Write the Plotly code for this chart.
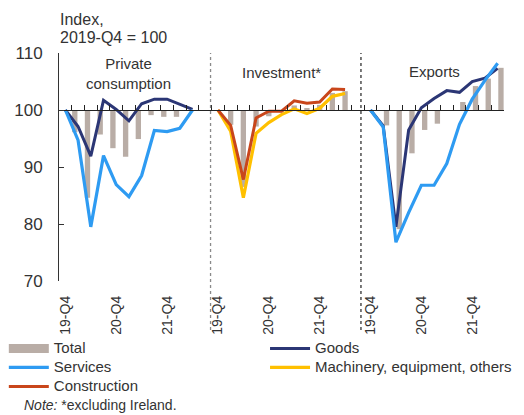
import plotly.graph_objects as go

# ---------------- data ----------------
quarters = ["19-Q4", "20-Q1", "20-Q2", "20-Q3", "20-Q4", "21-Q1",
            "21-Q2", "21-Q3", "21-Q4", "22-Q1", "22-Q2"]
panels = ["Private<br>consumption", "Investment*", "Exports"]

pc_total = [None, 96.1, 84.6, 95.7, 93.3, 91.8, 94.9, 99.1, 98.8, 98.8, None]
pc_goods = [100, 97.1, 91.9, 101.7, 100.1, 98.1, 101.1, 101.9, 101.9, 101.0, 100.1]
pc_services = [100, 94.7, 79.5, 92.0, 86.9, 84.8, 88.5, 96.4, 96.2, 96.8, 100]

inv_total = [None, 97.4, 86.5, 97.1, 98.9, 99.6, 100.8, 100.2, 100.9, 103.0, 103.3]
inv_construction = [100, 97.3, 87.8, 98.6, 99.8, 99.8, 101.6, 101.2, 101.4, 103.7, 103.6]
inv_machinery = [100, 96.3, 84.6, 95.9, 97.8, 99.2, 100.2, 99.4, 100.3, 102.4, 102.9]

exp_total = [None, 97.3, 79.1, 92.4, 96.5, 97.6, 99.9, 101.4, 104.2, 105.5, 107.4]
exp_goods = [100, 97.2, 79.5, 96.5, 100.4, 102.0, 103.4, 103.1, 105.0, 105.6, 107.3]
exp_services = [100, 97.0, 76.8, 82.0, 86.8, 86.8, 90.6, 97.5, 101.9, 105.2, 108.2]

y_ticks = [70, 80, 90, 100, 110]
base_value = 100

# ---------------- layout helpers ----------------
NQ = len(quarters)
STEP = NQ + 1                      # one empty slot between panels
NCAT = 3 * NQ + 2
starts = [0, STEP, 2 * STEP]
X = list(range(NCAT))


def spread(panel, vals):
    arr = [None] * NCAT
    for i, v in enumerate(vals):
        arr[starts[panel] + i] = v
    return arr


def merge(*arrs):
    out = [None] * NCAT
    for a in arrs:
        for i, v in enumerate(a):
            if v is not None:
                out[i] = v
    return out


total = merge(spread(0, pc_total), spread(1, inv_total), spread(2, exp_total))
bar_offsets = [[-0.47, -0.21, 0.05][min(i // STEP, 2)] for i in range(NCAT)]

C_TOTAL = "#b9ada6"
C_GOODS = "#2b3675"
C_SERV = "#2e9bf2"
C_CONS = "#c9461b"
C_MACH = "#ffc000"
TXT = "#333333"
FONT = "Liberation Sans"


def lg(name):
    return '<span style="font-size:15px">' + name + '</span>'


fig = go.Figure()

fig.add_trace(go.Bar(
    x=X, y=[None if v is None else v - base_value for v in total],
    base=base_value, width=0.42, offset=bar_offsets,
    marker=dict(color=C_TOTAL, line=dict(width=0)),
    name="Total", showlegend=False))

# legend sample for Total (wide block)
fig.add_trace(go.Scatter(x=[None], y=[None], mode="lines", name=lg("Total"),
                         line=dict(color=C_TOTAL, width=9), legend="legend"))

fig.add_trace(go.Scatter(x=X, y=merge(spread(0, pc_goods), spread(2, exp_goods)),
                         mode="lines", name=lg("Goods"), connectgaps=False,
                         line=dict(color=C_GOODS, width=3), legend="legend2"))
fig.add_trace(go.Scatter(x=X, y=merge(spread(0, pc_services), spread(2, exp_services)),
                         mode="lines", name=lg("Services"), connectgaps=False,
                         line=dict(color=C_SERV, width=3.2), legend="legend"))
fig.add_trace(go.Scatter(x=X, y=spread(1, inv_machinery),
                         mode="lines", name=lg("Machinery, equipment, others"),
                         line=dict(color=C_MACH, width=3.2), legend="legend2"))
fig.add_trace(go.Scatter(x=X, y=spread(1, inv_construction),
                         mode="lines", name=lg("Construction"),
                         line=dict(color=C_CONS, width=3), legend="legend"))

# helper trace for the 100-level category axis
fig.add_trace(go.Scatter(x=[None], y=[None], xaxis="x2", showlegend=False,
                         hoverinfo="skip"))

tickvals, ticktext = [], []
for s in starts:
    for k in (0, 4, 8):
        tickvals.append(s + k)
        ticktext.append(quarters[k])

xr = [-0.5, NCAT - 0.5]
ymin, ymax = y_ticks[0], y_ticks[-1]
pos100 = (base_value - ymin) / (ymax - ymin)

legend_common = dict(orientation="v", yanchor="top", xanchor="left",
                     itemwidth=40, font=dict(size=12, color=TXT),
                     bgcolor="rgba(0,0,0,0)", traceorder="normal",
                     tracegroupgap=0, borderwidth=0)

fig.update_layout(
    width=524, height=415,
    margin=dict(l=59, r=20, t=53, b=134, autoexpand=False),
    paper_bgcolor="white", plot_bgcolor="white",
    font=dict(family=FONT, color=TXT, size=15),
    barmode="overlay",
    xaxis=dict(range=xr, tickvals=tickvals, ticktext=ticktext, tickangle=-90,
               showline=False, ticks="", showgrid=False, zeroline=False,
               tickfont=dict(size=14, color=TXT), ticklabelstandoff=11),
    xaxis2=dict(range=xr, overlaying="x", anchor="free", position=pos100,
                side="bottom", showline=True, linecolor="#222", linewidth=1.3,
                ticks="inside", ticklen=5, tickwidth=1.2, tickcolor="#222",
                tickvals=[k + 0.5 for k in range(-1, NCAT)],
                showticklabels=False, showgrid=False, zeroline=False),
    yaxis=dict(range=[ymin, ymax], tickvals=y_ticks, ticks="inside", ticklen=5,
               tickcolor="#333", showline=True, linecolor="#333", linewidth=1,
               showgrid=False, zeroline=False, ticklabelstandoff=12,
               tickfont=dict(size=17, color=TXT)),
    legend=dict(x=-0.124, y=-0.232, **legend_common),
    legend2=dict(x=0.463, y=-0.232, **legend_common),
    showlegend=True,
)

# panel dividers
for xd, col in ((STEP - 0.58, "#8a8a8a"), (2 * STEP - 0.75, "#333333")):
    fig.add_shape(type="line", xref="x", yref="paper", x0=xd, x1=xd,
                  y0=-0.215, y1=1.0, line=dict(color=col, width=1.3, dash="dot"))

# panel titles
panel_y = [106.4, 106.6, 106.75]
for p, name in enumerate(panels):
    fig.add_annotation(x=starts[p] + (NQ - 1) / 2, y=panel_y[p], xref="x", yref="y",
                       text=name, showarrow=False, font=dict(size=15, color=TXT),
                       yanchor="middle", xanchor="center")

for txt, yp in (("Index,", 1.149), ("2019-Q4 = 100", 1.066)):
    fig.add_annotation(x=-0.002, y=yp, xref="paper", yref="paper", xanchor="left",
                       yanchor="middle", align="left", showarrow=False,
                       text=txt, font=dict(size=16, color=TXT))

fig.add_annotation(x=-0.083, y=-0.545, xref="paper", yref="paper", xanchor="left",
                   yanchor="middle", showarrow=False,
                   text="<i>Note:</i> *excluding Ireland.", font=dict(size=14, color=TXT))

fig.write_html("out.html", config={"displayModeBar": False},
               post_script="document.body.style.margin='0px';")
